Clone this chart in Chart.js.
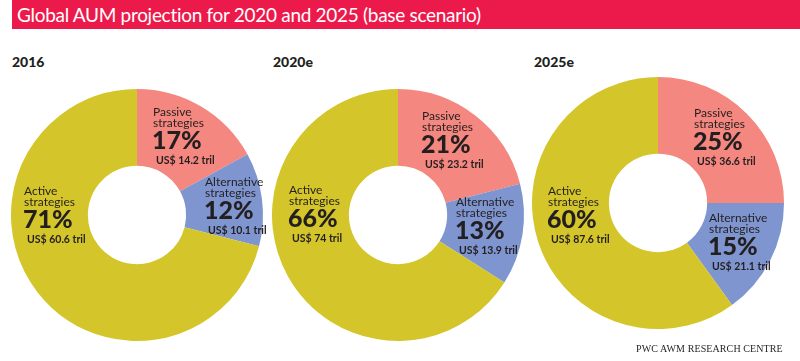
<!DOCTYPE html>
<html lang="en">
<head>
<meta charset="utf-8">
<script src="https://cdn.jsdelivr.net/npm/chart.js"></script>
<style>
    body {
        margin: 0;
        width: 800px;
        height: 361px;
        background: #fff;
        position: relative;
        overflow: hidden;
        font-family: Lato, 'Open Sans', sans-serif;
        color: #231f20;
    }
    .title-bar {
        position: absolute;
        left: 12px;
        top: 0;
        width: 788px;
        height: 29px;
        background: #ec1a4b;
    }
    .title-bar span {
        position: absolute;
        left: 5px;
        top: 3px;
        color: #fff;
        font-size: 19px;
        letter-spacing: -0.3px;
        white-space: nowrap;
    }
    .year {
        position: absolute;
        top: 53px;
        font-size: 14px;
        font-weight: 900;
    }
    .chart-box {
        position: absolute;
        width: 272px;
        height: 272px;
    }
    .source {
        position: absolute;
        left: 636px;
        top: 343px;
        font-family: 'Liberation Serif', 'DejaVu Serif', serif;
        font-size: 10px;
        letter-spacing: 0.1px;
        white-space: nowrap;
    }
</style>
</head>
<body>
    <div class="title-bar"><span>Global AUM projection for 2020 and 2025 (base scenario)</span></div>

    <div class="year" style="left:12px">2016</div>
    <div class="year" style="left:273px">2020e</div>
    <div class="year" style="left:534px">2025e</div>

    <div class="chart-box" style="left:1px; top:79px;"><canvas id="c2016"></canvas></div>
    <div class="chart-box" style="left:262px; top:79px;"><canvas id="c2020"></canvas></div>
    <div class="chart-box" style="left:522px; top:67px;"><canvas id="c2025"></canvas></div>

    <div class="source">PWC AWM RESEARCH CENTRE</div>

<script>
    // data
    const categories = ['Passive strategies', 'Alternative strategies', 'Active strategies'];
    const share2016 = [17, 12, 71];
    const share2020 = [21, 13, 66];
    const share2025 = [25, 15, 60];
    const aum2016 = [14.2, 10.1, 60.6];   // US$ tril
    const aum2020 = [23.2, 13.9, 74];
    const aum2025 = [36.6, 21.1, 87.6];

    const colors = ['#f4877f', '#7f95cf', '#d4c62a'];

    // where each label block starts, relative to the donut centre
    const labelSpots = {
        c2016: [[16, -103], [68, -33], [-113, -24]],
        c2020: [[24, -99], [58, -13], [-109, -25]],
        c2025: [[36, -90], [51, 15], [-110, -12]]
    };

    const sliceLabels = {
        id: 'sliceLabels',
        afterDatasetsDraw(chart, args, opts) {
            const ctx = chart.ctx;
            const meta = chart.getDatasetMeta(0);
            const ds = chart.data.datasets[0];
            ctx.save();
            ctx.fillStyle = '#231f20';
            ctx.textAlign = 'left';
            ctx.textBaseline = 'middle';
            meta.data.forEach((arc, i) => {
                const [dx, dy] = opts.spots[i];
                const x = arc.x + dx;
                const y = arc.y + dy;
                const words = chart.data.labels[i].split(' ');
                ctx.font = '12px Lato, sans-serif';
                ctx.fillText(words[0], x, y);
                ctx.fillText(words[1], x, y + 11);
                ctx.font = '900 25px Lato, sans-serif';
                ctx.fillText(ds.data[i] + '%', x - 1, y + 29);
                ctx.font = 'bold 10.5px Lato, sans-serif';
                ctx.fillText('US$ ' + opts.aum[i] + ' tril', x + 3, y + 49);
            });
            ctx.restore();
        }
    };

    function makeDonut(id, shares, aum) {
        new Chart(document.getElementById(id), {
            type: 'doughnut',
            data: {
                labels: categories,
                datasets: [{
                    data: shares,
                    backgroundColor: colors,
                    borderWidth: 0
                }]
            },
            options: {
                responsive: true,
                maintainAspectRatio: false,
                animation: false,
                cutout: '39%',
                layout: { padding: 10 },
                plugins: {
                    legend: { display: false },
                    tooltip: { enabled: false },
                    sliceLabels: { spots: labelSpots[id], aum: aum }
                }
            },
            plugins: [sliceLabels]
        });
    }

    makeDonut('c2016', share2016, aum2016);
    makeDonut('c2020', share2020, aum2020);
    makeDonut('c2025', share2025, aum2025);
</script>
</body>
</html>
